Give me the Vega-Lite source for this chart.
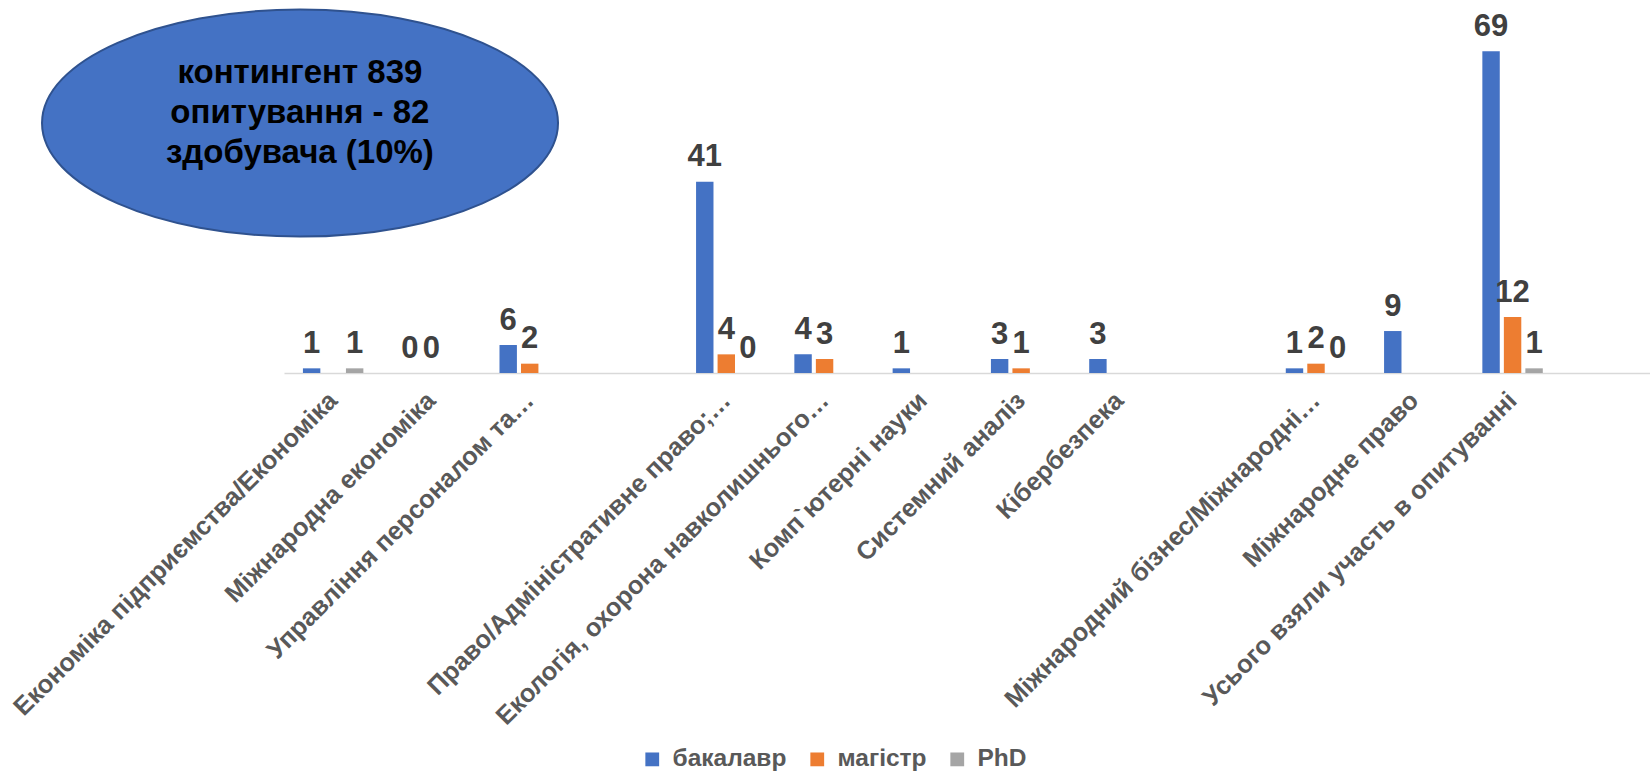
{
  "$schema": "https://vega.github.io/schema/vega-lite/v6.json",
  "width": 1366,
  "height": 373,
  "autosize": {"type": "none"},
  "padding": {"left": 284, "top": 0, "right": 0, "bottom": 404},
  "background": "white",
  "config": {"view": {"stroke": null}, "font": "Liberation Sans"},
  "datasets": {
    "counts": [
      {"cat": "Економіка підприємства/Економіка", "series": "бакалавр", "v": 1},
      {"cat": "Економіка підприємства/Економіка", "series": "PhD", "v": 1},
      {"cat": "Міжнародна економіка", "series": "бакалавр", "v": 0},
      {"cat": "Міжнародна економіка", "series": "магістр", "v": 0},
      {"cat": "Управління персоналом та…", "series": "бакалавр", "v": 6},
      {"cat": "Управління персоналом та…", "series": "магістр", "v": 2},
      {"cat": "Право/Адміністративне право;…", "series": "бакалавр", "v": 41},
      {"cat": "Право/Адміністративне право;…", "series": "магістр", "v": 4},
      {"cat": "Право/Адміністративне право;…", "series": "PhD", "v": 0},
      {"cat": "Екологія, охорона навколишнього…", "series": "бакалавр", "v": 4},
      {"cat": "Екологія, охорона навколишнього…", "series": "магістр", "v": 3},
      {"cat": "Комп`ютерні науки", "series": "бакалавр", "v": 1},
      {"cat": "Системний аналіз", "series": "бакалавр", "v": 3},
      {"cat": "Системний аналіз", "series": "магістр", "v": 1},
      {"cat": "Кібербезпека", "series": "бакалавр", "v": 3},
      {"cat": "Міжнародний бізнес/Міжнародні…", "series": "бакалавр", "v": 1},
      {"cat": "Міжнародний бізнес/Міжнародні…", "series": "магістр", "v": 2},
      {"cat": "Міжнародний бізнес/Міжнародні…", "series": "PhD", "v": 0},
      {"cat": "Міжнародне право", "series": "бакалавр", "v": 9},
      {"cat": "Усього взяли участь в опитуванні", "series": "бакалавр", "v": 69},
      {"cat": "Усього взяли участь в опитуванні", "series": "магістр", "v": 12},
      {"cat": "Усього взяли участь в опитуванні", "series": "PhD", "v": 1}
    ],
    "note": [
      {"text": "контингент 839\nопитування - 82\nздобувача (10%)"}
    ]
  },
  "layer": [
    {
      "data": {"name": "counts"},
      "encoding": {
        "x": {
          "field": "cat",
          "type": "nominal",
          "sort": null,
          "scale": {
            "domain": ["Економіка підприємства/Економіка", "Міжнародна економіка", "Управління персоналом та…", " ", "Право/Адміністративне право;…", "Екологія, охорона навколишнього…", "Комп`ютерні науки", "Системний аналіз", "Кібербезпека", "  ", "Міжнародний бізнес/Міжнародні…", "Міжнародне право", "Усього взяли участь в опитуванні", "   "],
            "range": [0, 1376],
            "paddingInner": 0.385,
            "paddingOuter": 0.1925
          },
          "axis": {
            "title": null,
            "labelAngle": -45,
            "labelAlign": "right",
            "labelBaseline": "middle",
            "labelFontSize": 25.5,
            "labelFontWeight": "bold",
            "labelColor": "#595959",
            "labelPadding": 23,
            "labelLimit": 0,
            "labelOverlap": false,
            "ticks": false,
            "domainColor": "#D9D9D9",
            "domainWidth": 1.5,
            "grid": false
          }
        },
        "xOffset": {
          "field": "series",
          "type": "nominal",
          "scale": {"domain": ["бакалавр", "магістр", "PhD"], "paddingInner": 0.19, "paddingOuter": 0}
        },
        "y": {
          "field": "v",
          "type": "quantitative",
          "scale": {"domain": [0, 80]},
          "axis": null
        }
      },
      "layer": [
        {
          "mark": {"type": "bar"},
          "encoding": {
            "color": {
              "field": "series",
              "type": "nominal",
              "scale": {"domain": ["бакалавр", "магістр", "PhD"], "range": ["#4472C4", "#ED7D31", "#A5A5A5"]},
              "legend": {
                "title": null,
                "orient": "none",
                "direction": "horizontal",
                "legendX": 356,
                "legendY": 747,
                "symbolType": "square",
                "symbolSize": 190,
                "symbolStrokeWidth": 0,
                "labelFontSize": 24.5,
                "labelFontWeight": "bold",
                "labelColor": "#595959",
                "labelOffset": 8,
                "columnPadding": 18,
                "labelLimit": 0
              }
            }
          }
        },
        {
          "mark": {"type": "text", "baseline": "alphabetic", "dy": -15.5, "fontSize": 31, "fontWeight": "bold", "fill": "#404040"},
          "encoding": {"text": {"field": "v", "type": "quantitative"}}
        }
      ]
    },
    {
      "data": {"name": "note"},
      "mark": {
        "type": "point",
        "shape": "M -1 0 C -1 -0.243 -0.5523 -0.44 0 -0.44 C 0.5523 -0.44 1 -0.243 1 0 C 1 0.243 0.5523 0.44 0 0.44 C -0.5523 0.44 -1 0.243 -1 0 Z",
        "filled": true,
        "fill": "#4472C4",
        "stroke": "#2F528F",
        "strokeWidth": 2,
        "opacity": 1,
        "size": 266256
      },
      "encoding": {
        "x": {"datum": "Економіка підприємства/Економіка", "bandPosition": -0.048},
        "y": {"datum": 53.6}
      }
    },
    {
      "data": {"name": "note"},
      "mark": {"type": "text", "lineBreak": "\n", "lineHeight": 40, "fontSize": 33, "fontWeight": "bold", "fill": "#000000", "align": "center", "baseline": "alphabetic"},
      "encoding": {
        "x": {"datum": "Економіка підприємства/Економіка", "bandPosition": -0.05},
        "y": {"datum": 62.1},
        "text": {"field": "text", "type": "nominal"}
      }
    }
  ]
}
